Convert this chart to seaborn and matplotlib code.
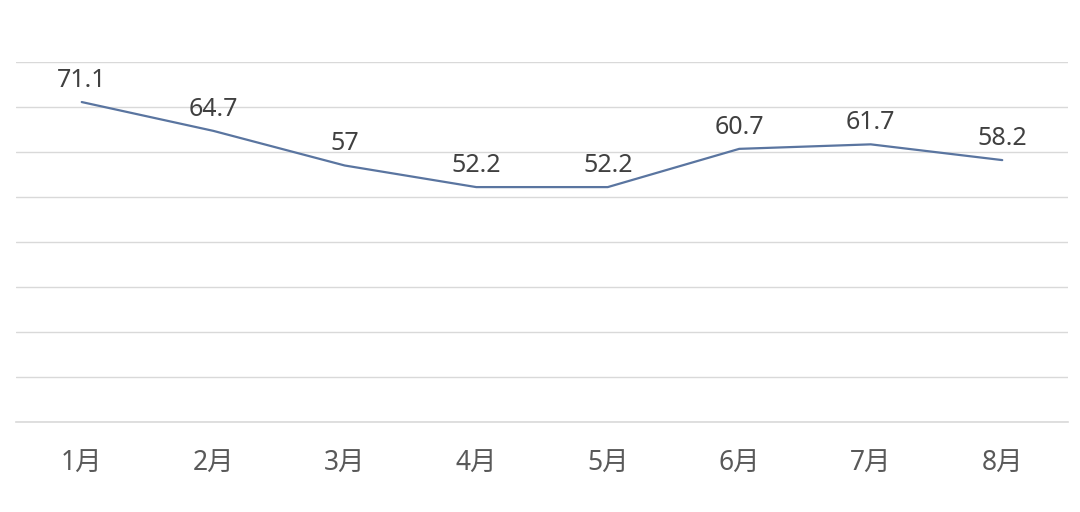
import pandas as pd
import matplotlib
matplotlib.use("Agg")
import matplotlib.pyplot as plt
import seaborn as sns

months = ["1月", "2月", "3月", "4月", "5月", "6月", "7月", "8月"]
values = [71.1, 64.7, 57, 52.2, 52.2, 60.7, 61.7, 58.2]
value_labels = ["71.1", "64.7", "57", "52.2", "52.2", "60.7", "61.7", "58.2"]

sns.set_style("white")
plt.rcParams['font.family'] = ['Noto Sans', 'Noto Sans CJK SC', 'DejaVu Sans']

df = pd.DataFrame({"month": months, "value": values})
df["pos"] = range(len(months))

fig = plt.figure(figsize=(10.8, 5.12), dpi=100)
ax = fig.add_axes([16 / 1080, 90 / 512, 1052 / 1080, 360 / 512])

sns.lineplot(data=df, x="pos", y="value", ax=ax, color="#5a75a0", linewidth=1.6)

ax.set_xlim(-0.5, len(months) - 0.5)
ax.set_ylim(0, 80)
ax.set_yticks(range(0, 81, 10))
ax.yaxis.grid(True, color="#d9d9d9", linewidth=1.0)
ax.set_axisbelow(True)
ax.set_yticklabels([])
ax.tick_params(axis="y", length=0)
ax.set_xticks(df["pos"])
ax.set_xticklabels(months, fontsize=19, color="#595959")
ax.tick_params(axis="x", length=0, pad=20)
ax.set_xlabel("")
ax.set_ylabel("")
for s in ax.spines.values():
    s.set_visible(False)
# category axis line
ax.spines["bottom"].set_visible(True)
ax.spines["bottom"].set_color("#d9d9d9")
ax.spines["bottom"].set_linewidth(1.2)

for x, y, t in zip(df["pos"], df["value"], value_labels):
    ax.annotate(t, (x, y), xytext=(0, 11), textcoords="offset points",
                ha="center", va="baseline", fontsize=18, color="#404040")

fig.savefig("out.png", dpi=100)
